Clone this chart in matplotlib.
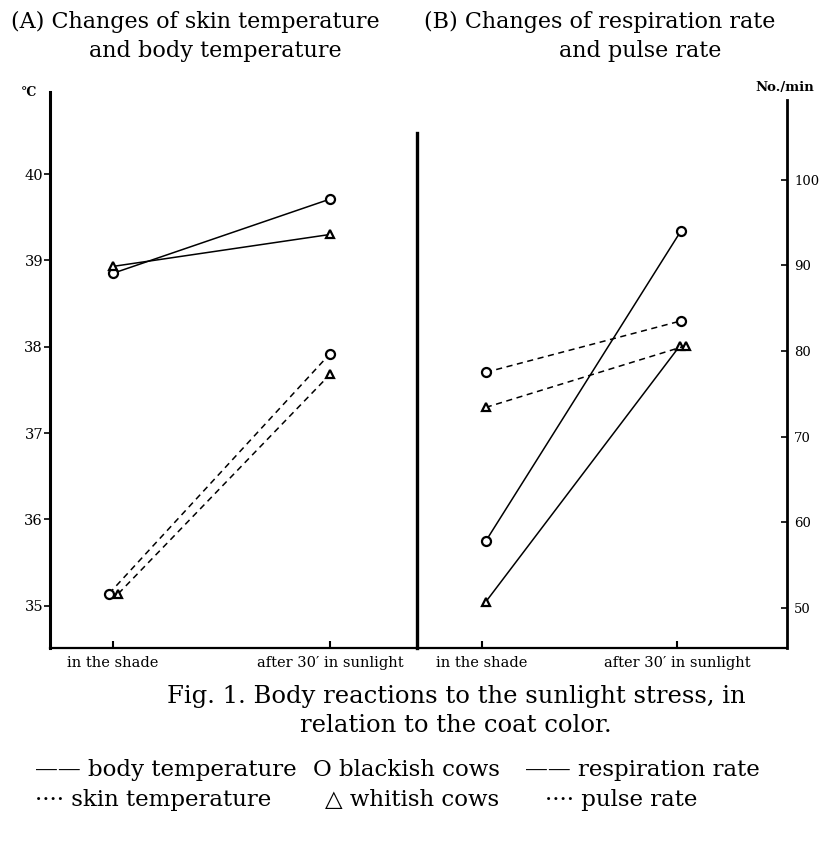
import matplotlib
matplotlib.use("Agg")
import matplotlib.pyplot as plt

plt.rcParams['font.family'] = ['DejaVu Serif', 'Liberation Serif']

categories = ["in the shade", "after 30\u2032 in sunlight"]

# Panel A (deg C)
body_black = [38.85, 39.71]
body_white = [38.93, 39.30]
skin_black = [35.14, 37.92]
skin_white = [35.14, 37.68]
yticks_a = [35, 36, 37, 38, 39, 40]

# Panel B (No./min)
resp_black = [57.8, 94.0]
resp_white = [50.7, 80.6]
pulse_black = [77.5, 83.5]
pulse_white = [73.4, 80.6]
yticks_b = [50, 60, 70, 80, 90, 100]

W, H = 819, 841
fig = plt.figure(figsize=(W / 100, H / 100), dpi=100)

def fx(px):
    return px / W

def fy(py):
    return 1 - py / H

axA = fig.add_axes([fx(50), fy(648), (417 - 50) / W, (648 - 92) / H])
axB = fig.add_axes([fx(417), fy(648), (787 - 417) / W, (648 - 100) / H])

line_kw = dict(color='black', lw=1.1)
dash = (0, (4, 3))
circ = dict(marker='o', ms=6.5, mfc='white', mec='black', mew=1.6)
tri = dict(marker='^', ms=6, mfc='white', mec='black', mew=1.6)

xs = [0, 1]
# Panel A
axA.plot(xs, body_black, **line_kw, **circ, zorder=3)
axA.plot(xs, body_white, **line_kw, **tri, zorder=3)
axA.plot([0 - 0.018, 1], skin_black, ls=dash, **line_kw, **circ, zorder=3)
axA.plot([0 + 0.025, 1], skin_white, ls=dash, **line_kw, **tri, zorder=3)
axA.set_xlim(-0.29, 1.40)
axA.set_ylim(34.51, 40.95)
axA.set_yticks(yticks_a)
axA.set_xticks(xs)
axA.set_xticklabels(categories)
axA.spines['top'].set_visible(False)
axA.spines['right'].set_visible(False)
axA.spines['left'].set_linewidth(2.2)
axA.spines['bottom'].set_linewidth(1.6)
axA.tick_params(axis='y', direction='out', length=4, width=1.2, labelsize=10.5, pad=1)
axA.tick_params(axis='x', direction='in', length=5, width=1.5, labelsize=10.5, pad=6)
axA.patch.set_alpha(0)
fig.text(fx(29), fy(93), "\u00b0C", ha='center', va='center', fontsize=9, fontweight='bold')

# Panel B
axB.plot([0.02, 1.02], resp_black, **line_kw, **circ, zorder=3)
axB.plot([0.02, 1.015], resp_white, **line_kw, **tri, zorder=3)
axB.plot([0.02, 1.02], pulse_black, ls=dash, **line_kw, **circ, zorder=3)
axB.plot([0.02, 1.045], pulse_white, ls=dash, **line_kw, **tri, zorder=3)
axB.set_xlim(-0.333, 1.564)
axB.set_ylim(45.3, 109.3)
axB.set_yticks(yticks_b)
axB.set_xticks(xs)
axB.set_xticklabels(categories)
axB.yaxis.tick_right()
axB.spines['top'].set_visible(False)
axB.spines['left'].set_linewidth(2.4)
axB.spines['left'].set_bounds(45.3, 105.5)
axB.spines['right'].set_linewidth(2.0)
axB.spines['bottom'].set_linewidth(1.6)
axB.tick_params(axis='y', direction='in', length=4, width=1.2, labelsize=9.5, pad=5)
axB.tick_params(axis='x', direction='in', length=5, width=1.5, labelsize=10.5, pad=6)
axB.patch.set_alpha(0)
fig.text(fx(785), fy(87), "No./min", ha='center', va='center', fontsize=9.5, fontweight='bold')

# Titles
tfs = 16
fig.text(fx(195), fy(22), "(A) Changes of skin temperature", ha='center', va='center', fontsize=tfs)
fig.text(fx(215), fy(51), "and body temperature", ha='center', va='center', fontsize=tfs)
fig.text(fx(600), fy(22), "(B) Changes of respiration rate", ha='center', va='center', fontsize=tfs)
fig.text(fx(640), fy(51), "and pulse rate", ha='center', va='center', fontsize=tfs)

# Caption
cfs = 17.5
fig.text(fx(456), fy(697), "Fig. 1. Body reactions to the sunlight stress, in",
         ha='center', va='center', fontsize=cfs)
fig.text(fx(456), fy(725), "relation to the coat color.", ha='center', va='center', fontsize=cfs)

# Legend text
leg_fs = 16.5
fig.text(fx(35), fy(770), "\u2014\u2014 body temperature", ha='left', va='center', fontsize=leg_fs)
fig.text(fx(313), fy(770), "O blackish cows", ha='left', va='center', fontsize=leg_fs)
fig.text(fx(525), fy(770), "\u2014\u2014 respiration rate", ha='left', va='center', fontsize=leg_fs)
fig.text(fx(35), fy(800), "\u00b7\u00b7\u00b7\u00b7 skin temperature", ha='left', va='center', fontsize=leg_fs)
fig.text(fx(325), fy(800), "\u25b3 whitish cows", ha='left', va='center', fontsize=leg_fs)
fig.text(fx(545), fy(800), "\u00b7\u00b7\u00b7\u00b7 pulse rate", ha='left', va='center', fontsize=leg_fs)

fig.savefig("out.png", dpi=100)
